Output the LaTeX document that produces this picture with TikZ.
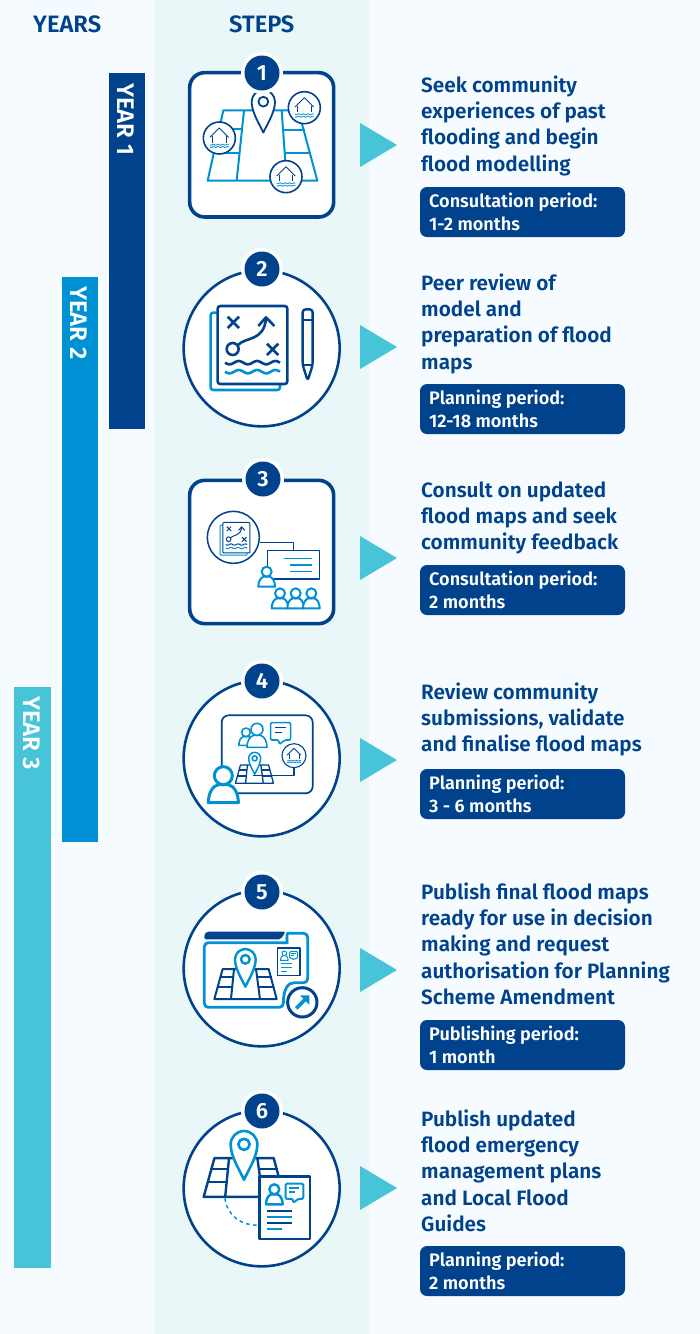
\documentclass[tikz,border=0pt]{standalone}
\usepackage{fontspec}
\setmainfont[BoldFont={Fira Sans SemiBold}]{Fira Sans}
\definecolor{pagebg}{HTML}{F5FBFE}
\definecolor{bandbg}{HTML}{E9F7F9}
\definecolor{navy}{HTML}{00438C}
\definecolor{midblue}{HTML}{0091D5}
\definecolor{teal}{HTML}{47C4D8}
\tikzset{
  iconat/.style={shift={(170,#1)},x=0.33333pt,y=-0.33333pt},
  nv/.style={draw=navy,line width=#1,line join=round},
  lt/.style={draw=midblue,line width=#1,line join=round},
  maintext/.style={anchor=north west,inner sep=0pt,align=left,text=navy,font=\fontsize{20.75}{26.3}\selectfont\bfseries},
  pilltext/.style={anchor=north west,inner sep=0pt,align=left,text=white,font=\fontsize{18.1}{23}\selectfont\bfseries},
  pillbox/.style={fill=navy,rounded corners=7pt},
  headtext/.style={anchor=base west,inner sep=0pt,text=navy,font=\fontsize{23.7}{26}\selectfont\bfseries},
  yeartext/.style={anchor=north west,rotate=-90,inner sep=0pt,text=white,font=\fontsize{24}{26}\selectfont\bfseries},
  arrowtri/.style={fill=teal},
  badgering/.style={circle,fill=white,minimum size=42pt,inner sep=0pt},
  badge/.style={circle,fill=navy,text=white,minimum size=35pt,inner sep=0pt,font=\fontsize{22}{24}\selectfont\bfseries},
}
% x0 x1 y amp periods
\newcommand\wavy[6][]{\draw[#1] plot[domain=#2:#3,samples=60] (\x,{#4+#5*sin((360*#6/(#3-(#2)))*(\x-(#2)))});}
% cx cy r style
\newcommand\pinic[4]{\begin{scope}[shift={(#1,#2)},scale=#3]
 \draw[#4,fill=white] (0,2.65) .. controls (-0.35,1.9) and (-1,0.9) .. (-1,0) .. controls (-1,-0.55) and (-0.55,-1) .. (0,-1) .. controls (0.55,-1) and (1,-0.55) .. (1,0) .. controls (1,0.9) and (0.35,1.9) .. (0,2.65) -- cycle;
 \draw[#4] (0,0) circle (0.42);
\end{scope}}
\newcommand\personic[4]{\begin{scope}[shift={(#1,#2)},scale=#3]
 \draw[#4,fill=white] (-1.67,3) .. controls (-1.67,2) and (-1.2,1.1) .. (-0.55,1) -- (0.55,1) .. controls (1.2,1.1) and (1.67,2) .. (1.67,3) -- cycle;
 \draw[#4,fill=white] (0,0) circle (1);
\end{scope}}
\newcommand\bubbleic[5]{\begin{scope}[shift={(#1,#2)},scale=#3]
 \draw[#4,rounded corners=1.2pt,fill=white] (0,0) -- (60,0) -- (60,52) -- (43,52) -- (26,65) -- (24,52) -- (0,52) -- cycle;
 \draw[#5] (13,15) -- (46,15);
 \draw[#5] (13,29) -- (33,29);
\end{scope}}
% flood circle: cx cy s lw
\newcommand\floodic[4]{\begin{scope}[shift={(#1,#2)},scale=#3]
 \draw[nv=#4,fill=white] (0,0) circle (48);
 \draw[nv=0.9pt] (-28,-2) -- (0,-30) -- (28,-2);
 \draw[nv=0.9pt] (-20,-6) -- (-20,14);
 \draw[nv=0.9pt] (20,-6) -- (20,14);
 \wavy[lt=0.8pt]{-28}{28}{20}{1.5}{4}
 \wavy[lt=0.8pt]{-28}{28}{27}{1.5}{4}
\end{scope}}
% plan document: cx cy s lw
\newcommand\docic[4]{\begin{scope}[shift={(#1,#2)},scale=#3]
 \draw[lt=#4,fill=white,rounded corners=#4] (-115,-97) rectangle (93,135);
 \draw[nv=#4,fill=white,rounded corners=#4] (-94,-117) rectangle (115,117);
 \draw[nv=#4] (-64,-85) -- (-30,-51) (-64,-51) -- (-30,-85);
 \draw[nv=#4] (54,-4) -- (88,30) (54,30) -- (88,-4);
 \draw[nv=#4] (-49,12) circle (18);
 \draw[nv=#4] (-33,0) .. controls (-10,-25) and (45,-10) .. (51,-80);
 \draw[nv=#4] (28,-57) -- (51,-83) -- (76,-57);
 \wavy[nv=#4]{-72}{93}{53}{5}{3}
 \wavy[lt=#4]{-72}{93}{80}{5}{3}
\end{scope}}
% perspective map: cx cy s lw
\newcommand\mapic[4]{\begin{scope}[shift={(#1,#2)},scale=#3]
 \draw[nv=#4] (-68,-43) -- (70,-43) -- (94,47) -- (-93,47) -- cycle;
 \draw[nv=#4] (-34,-43) -- (-43,47);
 \draw[nv=#4] (32,-43) -- (44,47);
 \draw[nv=#4] (-76,-18) -- (-38,-18) (36,-18) -- (79,-18);
 \draw[nv=#4] (-84,12) -- (-40,12) (40,12) -- (86,12);
\end{scope}}
\newcommand\circframe[1]{\draw[nv=2.6pt,fill=white] (275,295) circle (234);}
\newcommand\textblock[4]{\node[maintext] (#1) at (#2,#3-19) {\rule{0pt}{19pt}#4};}
\newcommand\pillblock[3]{%
  \fill[pillbox] (420,#2) rectangle (625,#2+50);
  \node[pilltext] (#1) at (429,#2+3) {\rule{0pt}{17pt}#3};}
\newcommand\tri[2]{\fill[arrowtri] (360,#2-22) -- (397,#2) -- (360,#2+22) -- cycle;}
\newcommand\stepbadge[4]{%
  \node[badgering] (#1r) at (#2,#3) {};
  \node[badge] (#1) at (#2,#3) {#4};}
\begin{document}
\begin{tikzpicture}[x=1pt,y=-1pt]
\useasboundingbox (0,0) rectangle (700,1334);
\fill[pagebg] (0,0) rectangle (700,1334);
\fill[bandbg] (155,0) rectangle (369,1334);
% year bars
\fill[navy] (108.5,73) rectangle (145,429);
\fill[midblue] (61.5,277) rectangle (98,842);
\fill[teal] (14,687) rectangle (50.5,1268);
\node[headtext] (years) at (33,32) {YEARS};
\node[headtext] (steps) at (229,32) {STEPS};
\node[yeartext] (y1) at (134.5,83) {YEAR 1};
\node[yeartext] (y2) at (87.5,286) {YEAR 2};
\node[yeartext] (y3) at (40,696) {YEAR 3};
% triangles
\tri{1}{145}\tri{2}{347}\tri{3}{558}\tri{4}{760}\tri{5}{970}\tri{6}{1188}
% texts
\textblock{t1}{421}{92}{Seek community\\experiences of past\\flooding and begin\\flood modelling}
\pillblock{p1}{187}{Consultation period:\\1-2 months}
\textblock{t2}{421}{290}{Peer review of\\model and\\preparation of flood\\maps}
\pillblock{p2}{384}{Planning period:\\12-18 months}
\textblock{t3}{421}{497}{Consult on updated\\flood maps and seek\\community feedback}
\pillblock{p3}{565}{Consultation period:\\2 months}
\textblock{t4}{421}{699}{Review community\\submissions, validate\\and finalise flood maps}
\pillblock{p4}{769}{Planning period:\\3 - 6 months}
\textblock{t5}{421}{899}{Publish final flood maps\\ready for use in decision\\making and request\\authorisation for Planning\\Scheme Amendment}
\pillblock{p5}{1020}{Publishing period:\\1 month}
\textblock{t6}{421}{1126}{Publish updated\\flood emergency\\management plans\\and Local Flood\\Guides}
\pillblock{p6}{1246}{Planning period:\\2 months}
% icon 1
\begin{scope}[iconat=50]
 \draw[nv=3.6pt,fill=white,rounded corners=15pt] (59,68) rectangle (491,501);
 \draw[lt=2pt] (160,181) -- (385,181) -- (442,392) -- (113,392) -- cycle;
 \draw[lt=2pt] (222,181) -- (200,392);
 \draw[lt=2pt] (335,181) -- (350,392);
 \draw[lt=2pt] (150,238) -- (215,238) (130,308) -- (210,308);
 \draw[lt=2pt] (340,240) -- (405,240) (345,308) -- (420,308);
 \pinic{280}{155}{35}{nv=1.8pt}
 \floodic{148}{264}{1}{1.6pt}
 \floodic{403}{173}{1}{1.6pt}
 \floodic{348}{380}{1}{1.6pt}
\end{scope}
\stepbadge{n1}{262}{73}{1}
% icon 2
\begin{scope}[iconat=250]
 \circframe{}
 \docic{237}{285}{1}{2.6pt}
 \draw[nv=2.4pt,fill=white,rounded corners=3pt] (398,345) -- (398,178) -- (428,178) -- (428,345) -- (413,392) -- cycle;
 \draw[nv=2pt] (398,210) -- (428,210);
 \draw[nv=2pt] (398,345) -- (428,345);
\end{scope}
\stepbadge{n2}{262}{269}{2}
% icon 3
\begin{scope}[iconat=460]
 \draw[nv=3.6pt,fill=white,rounded corners=15pt] (59,61) rectangle (491,491);
 \draw[nv=1.5pt,fill=white] (190,232) circle (78);
 \docic{195}{233}{0.39}{1pt}
 \draw[nv=1.2pt] (270,247) -- (370,247) -- (370,272);
 \draw[nv=1.6pt] (293,272) rectangle (448,357);
 \draw[lt=1.5pt] (342,295) -- (426,295) (360,315) -- (426,315) (360,335) -- (426,335);
 \personic{290}{335}{15}{lt=2pt}
 \personic{330}{400}{15}{lt=2pt}
 \personic{377}{400}{15}{lt=2pt}
 \personic{424}{400}{15}{lt=2pt}
\end{scope}
\stepbadge{n3}{263}{479}{3}
% icon 4
\begin{scope}[iconat=660]
 \circframe{}
 \draw[nv=1.7pt,rounded corners=7pt] (155,166) rectangle (428,400);
 \personic{228}{217}{13}{lt=1.6pt}
 \personic{261}{208}{18}{lt=1.6pt}
 \bubbleic{302}{188}{1}{lt=1.6pt}{nv=1.1pt}
 \mapic{253}{341}{0.61}{1.3pt}
 \pinic{254}{295}{18}{lt=1.5pt}
 \draw[nv=1.1pt] (372,323) -- (372,346) -- (250,346);
 \floodic{372}{287}{0.75}{1.1pt}
 \personic{160}{347}{27}{lt=3pt}
\end{scope}
\stepbadge{n4}{262}{681}{4}
% icon 5
\begin{scope}[iconat=870]
 \circframe{}
 \fill[navy,rounded corners=2pt] (103,208) -- (103,192) -- (110,185) -- (347,185) -- (332,208) -- cycle;
 \draw[lt=2.8pt,rounded corners=4pt] (103,218) -- (340,218) .. controls (350,218) and (350,190) .. (365,190) -- (413,190) -- (413,338) -- (385,338) .. controls (355,338) and (340,355) .. (340,412) -- (103,412) -- cycle;
 \draw[nv=1.2pt,fill=white] (323,234) rectangle (390,316);
 \personic{343}{250}{7}{lt=1pt}
 \bubbleic{359}{244}{0.4}{lt=1pt}{lt=0.5pt}
 \draw[lt=1pt] (333,280) -- (367,280) (333,292) -- (367,292) (333,304) -- (352,304);
 \mapic{226}{340}{1}{2pt}
 \pinic{226}{268}{31}{lt=2.4pt}
 \draw[nv=3pt,fill=white] (397,397) circle (44);
 \draw[midblue,line width=3.6pt] (379,415) -- (407,387);
 \fill[midblue] (390,376) -- (418,376) -- (418,404) -- cycle;
\end{scope}
\stepbadge{n5}{262}{892}{5}
% icon 6
\begin{scope}[iconat=1090]
 \circframe{}
 \draw[lt=1.5pt,dash pattern=on 3.5pt off 3.5pt] (165,325) .. controls (170,375) and (215,408) .. (262,405);
 \mapic{221}{260}{1.29}{2.4pt}
 \pinic{222}{163}{40}{lt=2.6pt}
 \draw[nv=2.4pt,fill=white] (268,260) rectangle (420,447);
 \personic{313}{298}{15}{lt=2.4pt}
 \bubbleic{347}{281}{0.88}{lt=2pt}{lt=1.4pt}
 \draw[nv=1.9pt] (292,362) -- (366,362) (292,399) -- (366,399);
 \draw[lt=1.9pt] (292,380) -- (366,380) (292,417) -- (336,417);
\end{scope}
\stepbadge{n6}{262}{1111}{6}
\end{tikzpicture}
\end{document}
